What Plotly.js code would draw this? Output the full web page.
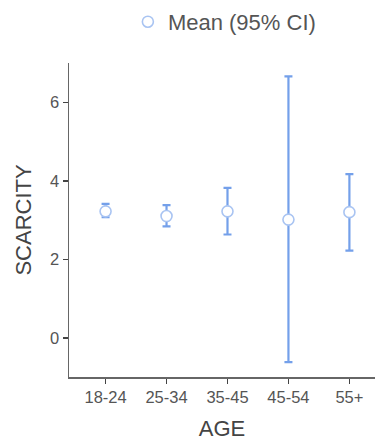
<!DOCTYPE html>
<html>
<head>
<meta charset="utf-8">
<script src="https://cdn.plot.ly/plotly-3.0.1.min.js"></script>
<style>
  html, body { margin: 0; padding: 0; background: #fff; }
  #chart { width: 375px; height: 442px; }
</style>
</head>
<body>
<div id="chart"></div>
<script>
// Age groups and mean scarcity with 95% confidence interval bounds
const ageGroups = ['18-24', '25-34', '35-45', '45-54', '55+'];
const meanScarcity = [3.22, 3.10, 3.22, 3.01, 3.20];
const ciUpper = [3.41, 3.38, 3.82, 6.66, 4.17];
const ciLower = [3.07, 2.84, 2.63, -0.62, 2.22];

const errPlus = ciUpper.map((u, i) => u - meanScarcity[i]);
const errMinus = meanScarcity.map((m, i) => m - ciLower[i]);

const FONT = 'Liberation Sans, Arial, sans-serif';

const trace = {
  type: 'scatter',
  mode: 'markers',
  name: 'Mean (95% CI)',
  x: ageGroups,
  y: meanScarcity,
  marker: {
    symbol: 'circle',
    size: 11,
    color: '#ffffff',
    line: { color: '#a9c4f2', width: 1.6 }
  },
  error_y: {
    type: 'data',
    symmetric: false,
    array: errPlus,
    arrayminus: errMinus,
    color: '#74a0ea',
    thickness: 2.2,
    width: 4
  }
};

const axisCommon = {
  showline: true,
  linecolor: '#666',
  linewidth: 1.5,
  ticks: 'outside',
  ticklen: 5,
  tickwidth: 1.5,
  tickcolor: '#444',
  showgrid: false,
  zeroline: false,
  tickfont: { family: FONT, size: 16.5, color: '#555' }
};

const layout = {
  width: 375,
  height: 442,
  margin: { l: 69, r: 0, t: 63, b: 65 },
  paper_bgcolor: '#fff',
  plot_bgcolor: '#fff',
  showlegend: true,
  legend: {
    orientation: 'h',
    xref: 'container',
    yref: 'container',
    x: 0.341,
    xanchor: 'left',
    y: 0.998,
    yanchor: 'top',
    font: { family: FONT, size: 22, color: '#555' }
  },
  xaxis: Object.assign({}, axisCommon, {
    type: 'category',
    range: [-0.6, 4.42],
    title: { text: 'AGE', font: { family: FONT, size: 22, color: '#444' }, standoff: 15 }
  }),
  yaxis: Object.assign({}, axisCommon, {
    range: [-1, 7],
    tickvals: [0, 2, 4, 6],
    title: { text: 'SCARCITY', font: { family: FONT, size: 22, color: '#444' }, standoff: 12 }
  })
};

Plotly.newPlot('chart', [trace], layout, { displayModeBar: false, staticPlot: true });
</script>
</body>
</html>
